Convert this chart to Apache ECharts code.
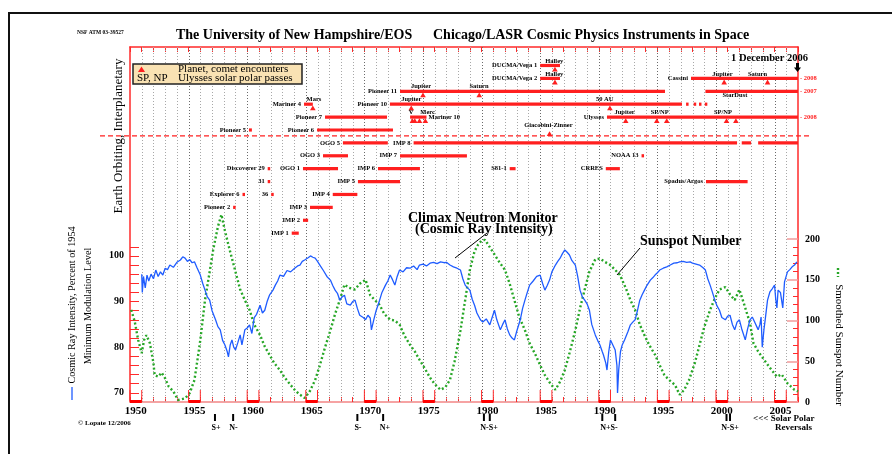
<!DOCTYPE html>
<html>
<head>
<meta charset="utf-8">
<script src="https://cdn.jsdelivr.net/npm/echarts@6/dist/echarts.min.js"></script>
<style>
  html, body { margin: 0; padding: 0; background: #ffffff; }
  #chart { width: 892px; height: 454px; }
</style>
</head>
<body>
<div id="chart"></div>
<script>
// ---------- Instrument timelines (row 0 = top of the panel) ----------
const missionNames = [
  'DUCMA/Vega 1', 'DUCMA/Vega 2', 'Cassini',
  'Pioneer 11', 'StarDust',
  'Mariner 4', 'Pioneer 10', '', '', '', '',
  'Pioneer 7', 'Mariner 10', 'Ulysses',
  'Pioneer 5', 'Pioneer 6',
  'OGO 5', 'IMP 8', '', '',
  'OGO 3', 'IMP 7', 'NOAA 13',
  'Discoverer 29', 'OGO 1', 'IMP 6', 'S81-1', 'CRRES',
  '31', 'IMP 5', 'Spadus/Argos',
  'Explorer 6', '36', 'IMP 4',
  'Pioneer 2', 'IMP 3',
  'IMP 2',
  'IMP 1'
];
const missionRows = [
  0, 1, 1,
  2, 2,
  3, 3, 3, 3, 3, 3,
  4, 4, 4,
  5, 5,
  6, 6, 6, 6,
  7, 7, 7,
  8, 8, 8, 8, 8,
  9, 9, 9,
  10, 10, 10,
  11, 11,
  12,
  13
];
const missionStart = [
  1985.0, 1985.0, 1997.87,
  1973.04, 1999.1,
  1964.85, 1972.18, 1997.45, 1998.1, 1998.55, 1999.05,
  1966.64, 1973.9, 1990.7,
  1960.15, 1965.96,
  1968.17, 1974.2, 2002.2, 2003.6,
  1966.47, 1973.04, 1993.65,
  1961.75, 1964.76, 1971.16, 1982.4, 1990.6,
  1961.75, 1969.45, 1999.15,
  1959.6, 1962.05, 1967.3,
  1958.8, 1965.36,
  1964.76,
  1963.8
];
const missionEnd = [
  1986.69, 1986.69, 2007.0,
  1995.65, 2007.0,
  1965.6, 1997.1, 1997.62, 1998.27, 1998.72, 1999.22,
  1971.93, 1975.3, 2007.0,
  1960.4, 1972.44,
  1972.0, 2001.8, 2003.0, 2007.0,
  1968.6, 1978.75, 1993.8,
  1961.95, 1967.75, 1974.74, 1982.9, 1991.8,
  1961.95, 1973.04, 2002.7,
  1959.75, 1962.25, 1969.4,
  1958.95, 1967.3,
  1965.2,
  1964.4
];
// Missions still running at the chart date, with planned end year
const extendedRows = [1, 2, 4];
const extendedText = ['2008', '2007', '2008'];

// ---------- Encounters (triangles) and their captions ----------
const encounterRows  = [0, 1, 1, 1, 2, 2, 3, 3, 3, 4, 4, 4, 4, 4, 4, 4, 4, 4, 5];
const encounterYears = [1986.26, 1986.26, 2000.7, 2004.4, 1975.0, 1979.8, 1965.6, 1974.0, 1990.95,
                        1974.1, 1974.3, 1974.7, 1975.2, 1992.3, 1994.95, 1995.8, 2000.9, 2001.7, 1985.8];
const captionText  = ['Halley', 'Halley', 'Jupiter', 'Saturn', 'Jupiter', 'Saturn', 'Mars', 'Jupiter', '50 AU',
                      'V', 'Merc', 'Jupiter', 'SP/NP', 'SP/NP', 'Giacobini-Zinner'];
const captionRows  = [0, 1, 1, 1, 2, 2, 3, 3, 3, 4, 4, 4, 4, 4, 5];
const captionYears = [1986.2, 1986.2, 2000.55, 2003.54, 1974.83, 1979.78, 1965.7, 1974.0, 1990.5,
                      1973.98, 1975.4, 1992.2, 1995.2, 2000.6, 1985.7];

// ---------- Climax neutron monitor, % of 1954 minimum modulation ----------
const cosmicYears = [
  1951.0, 1951.05, 1951.15, 1951.3, 1951.45, 1951.6, 1951.8, 1952.0, 1952.2, 1952.4, 1952.6, 1952.8,
  1953.0, 1953.2, 1953.4, 1953.7, 1954.0, 1954.3, 1954.5, 1954.7, 1954.9, 1955.1, 1955.3, 1955.5, 1955.7,
  1956.0, 1956.2, 1956.4, 1956.6, 1956.8, 1957.0, 1957.3, 1957.5, 1957.7, 1957.9, 1958.1, 1958.3, 1958.4,
  1958.55, 1958.7, 1958.85, 1959.0, 1959.2, 1959.4, 1959.55, 1959.8, 1960.0, 1960.2, 1960.4, 1960.6, 1960.8,
  1961.1, 1961.3, 1961.5, 1961.7, 1961.9, 1962.2, 1962.4, 1962.6, 1962.8, 1963.1, 1963.4, 1963.7, 1964.0,
  1964.3, 1964.5, 1964.7, 1964.9, 1965.2, 1965.4, 1965.6, 1965.8, 1966.0, 1966.2, 1966.5, 1966.8, 1967.1,
  1967.3, 1967.5, 1967.7, 1967.9, 1968.1, 1968.3, 1968.5, 1968.8, 1969.0, 1969.2, 1969.4, 1969.6, 1969.9,
  1970.1, 1970.3, 1970.5, 1970.6, 1970.8, 1971.0, 1971.3, 1971.5, 1971.8, 1972.0, 1972.2, 1972.4, 1972.6,
  1972.8, 1973.0, 1973.3, 1973.6, 1973.9, 1974.2, 1974.5, 1974.7, 1975.0, 1975.3, 1975.6, 1975.9, 1976.2,
  1976.5, 1976.8, 1977.0, 1977.3, 1977.6, 1977.9, 1978.2, 1978.4, 1978.6, 1978.8, 1979.0, 1979.2, 1979.4,
  1979.6, 1979.9, 1980.1, 1980.4, 1980.7, 1980.9, 1981.1, 1981.3, 1981.6, 1981.8, 1982.0, 1982.2, 1982.4,
  1982.6, 1982.8, 1983.0, 1983.3, 1983.5, 1983.7, 1983.9, 1984.1, 1984.4, 1984.7, 1985.0, 1985.2, 1985.4,
  1985.6, 1985.8, 1986.0, 1986.3, 1986.5, 1986.7, 1986.9, 1987.1, 1987.3, 1987.5, 1987.7, 1988.0, 1988.2,
  1988.4, 1988.6, 1988.8, 1989.0, 1989.2, 1989.4, 1989.7, 1989.9, 1990.1, 1990.3, 1990.4, 1990.6, 1990.7,
  1990.85, 1991.0, 1991.2, 1991.4, 1991.55, 1991.6, 1991.7, 1991.85, 1992.0, 1992.2, 1992.5, 1992.7, 1992.9,
  1993.1, 1993.3, 1993.5, 1993.7, 1993.9, 1994.1, 1994.4, 1994.6, 1994.8, 1995.0, 1995.2, 1995.5, 1995.8,
  1996.1, 1996.4, 1996.7, 1996.9, 1997.2, 1997.5, 1997.8, 1998.0, 1998.3, 1998.6, 1998.9, 1999.1, 1999.3,
  1999.5, 1999.7, 1999.9, 2000.1, 2000.3, 2000.5, 2000.8, 2001.0, 2001.2, 2001.4, 2001.6, 2001.8, 2002.0,
  2002.2, 2002.5, 2002.7, 2002.9, 2003.1, 2003.3, 2003.5, 2003.6, 2003.75, 2003.85, 2003.95, 2004.1, 2004.2,
  2004.4, 2004.6, 2004.8, 2005.0, 2005.1, 2005.2, 2005.3, 2005.5, 2005.6, 2005.7, 2005.85, 2006.1, 2006.3,
  2006.5, 2006.7, 2006.9
];
const cosmicPct = [
  96.0, 92.0, 95.5, 93.0, 95.8, 94.5, 96.0, 95.0, 96.9, 95.5, 96.5, 95.8,
  97.3, 97.0, 98.0, 97.5, 98.6, 99.1, 99.8, 99.5, 98.8, 99.2, 98.5, 98.7, 97.5,
  95.8, 94.0, 92.5, 91.0, 90.3, 88.0, 86.0, 84.5, 83.8, 81.5, 80.5, 79.0, 77.9,
  80.5, 81.6, 80.0, 79.4, 81.0, 82.7, 80.5, 83.8, 84.2, 84.9, 83.0, 86.5, 87.2,
  89.2, 87.5, 88.1, 90.0, 91.4, 92.5, 93.6, 94.5, 95.8, 95.5, 96.8, 96.5, 97.2,
  97.8, 98.0, 98.8, 99.1, 99.6, 100.0, 99.7, 99.5, 98.8, 98.0, 96.8, 95.5, 94.7,
  93.5, 92.5, 91.8, 90.3, 91.0, 91.4, 89.5, 89.2, 90.0, 90.3, 88.5, 87.0, 86.5,
  86.0, 87.0, 86.4, 83.8, 86.0, 88.0, 90.3, 92.0, 93.6, 94.5, 95.8, 94.8, 93.6,
  95.5, 96.9, 96.5, 97.4, 97.3, 97.8, 97.0, 98.0, 98.2, 97.8, 98.4, 98.6, 98.3,
  98.7, 98.5, 98.6, 98.0, 97.6, 97.3, 96.9, 95.0, 93.6, 93.0, 92.5, 90.5, 89.2,
  87.5, 86.0, 85.5, 86.2, 84.9, 86.5, 88.1, 86.0, 83.8, 85.0, 86.0, 84.0, 82.7,
  82.0, 81.6, 83.5, 86.0, 88.5, 90.3, 92.0, 93.6, 94.5, 95.5, 95.8, 94.0, 92.5,
  93.5, 94.7, 96.5, 98.0, 98.8, 99.5, 100.5, 101.3, 100.8, 100.2, 99.0, 98.0, 95.5,
  92.5, 91.0, 90.3, 89.5, 88.1, 85.0, 82.7, 81.5, 80.5, 79.0, 78.3, 76.5, 75.0,
  79.0, 81.6, 80.5, 79.4, 76.0, 70.0, 75.0, 79.0, 80.5, 81.6, 83.5, 84.9, 85.5,
  86.0, 88.0, 90.3, 91.5, 92.5, 93.5, 94.7, 95.2, 95.8, 96.3, 96.9, 97.3, 97.6,
  98.0, 98.4, 98.5, 98.7, 98.8, 98.6, 98.7, 98.4, 98.2, 98.0, 97.4, 96.9, 95.0,
  93.6, 92.0, 90.3, 89.0, 88.1, 86.5, 86.0, 86.8, 87.0, 85.0, 83.8, 85.5, 86.0,
  84.0, 81.6, 84.0, 86.0, 86.6, 85.5, 84.4, 83.8, 85.0, 86.6, 80.0, 84.0, 86.0,
  90.3, 92.1, 92.8, 93.6, 90.5, 88.6, 92.5, 92.0, 92.1, 88.6, 94.3, 96.5, 97.0,
  97.6, 98.0, 98.7
];

// ---------- Smoothed sunspot number ----------
const sunspotYears = [
  1950.1, 1950.4, 1950.7, 1951.0, 1951.2, 1951.4, 1951.7, 1952.0, 1952.1, 1952.4, 1952.7, 1953.0, 1953.3,
  1953.7, 1954.1, 1954.7, 1955.1, 1955.5, 1955.8, 1956.0, 1956.4, 1956.8, 1957.1, 1957.5, 1957.8, 1958.1,
  1958.5, 1959.0, 1959.4, 1959.8, 1960.2, 1960.6, 1961.1, 1961.5, 1961.9, 1962.3, 1962.8, 1963.2, 1963.7,
  1964.1, 1964.5, 1964.9, 1965.3, 1965.8, 1966.2, 1966.6, 1967.1, 1967.5, 1967.9, 1968.3, 1968.7, 1969.2,
  1969.6, 1970.1, 1970.5, 1970.9, 1971.3, 1971.7, 1972.2, 1972.6, 1973.0, 1973.4, 1973.9, 1974.3, 1974.7,
  1975.2, 1975.6, 1976.0, 1976.5, 1976.9, 1977.3, 1977.7, 1978.2, 1978.6, 1979.0, 1979.4, 1979.7, 1980.0,
  1980.3, 1980.7, 1981.1, 1981.5, 1982.0, 1982.4, 1982.8, 1983.2, 1983.7, 1984.1, 1984.6, 1985.0, 1985.4,
  1985.9, 1986.3, 1986.7, 1987.1, 1987.5, 1988.0, 1988.4, 1988.8, 1989.2, 1989.7, 1990.1, 1990.5, 1991.0,
  1991.4, 1991.8, 1992.3, 1992.7, 1993.1, 1993.5, 1993.9, 1994.3, 1994.8, 1995.2, 1995.6, 1996.0, 1996.5,
  1996.9, 1997.3, 1997.7, 1998.2, 1998.6, 1999.0, 1999.5, 1999.9, 2000.3, 2000.8, 2001.2, 2001.6, 2002.0,
  2002.4, 2002.9, 2003.2, 2003.6, 2004.0, 2004.6, 2005.2, 2005.6, 2006.1, 2006.7, 2007.0
];
const sunspotNum = [
  113, 99, 76, 60, 76, 82, 72, 48, 33, 31, 36, 29, 19,
  13, 2.5, 4.5, 11, 27, 56, 76, 125, 160, 187, 215, 230, 210,
  187, 160, 138, 125, 113, 95, 82, 68, 58, 48, 39, 30, 21,
  14, 9, 5, 12, 27, 45, 65, 88, 108, 125, 144, 140, 138,
  145, 150, 131, 125, 119, 108, 101, 100, 95, 82, 70, 62, 52,
  40, 30, 22, 15, 18, 27, 50, 88, 125, 162, 185, 193, 198,
  199, 190, 181, 172, 162, 145, 125, 105, 88, 72, 58, 45, 33,
  22, 15, 25, 39, 60, 88, 115, 138, 160, 175, 176, 172, 168,
  162, 156, 140, 125, 113, 95, 82, 70, 58, 45, 33, 27, 21,
  9, 15, 27, 48, 70, 92, 113, 127, 138, 141, 132, 125, 138,
  120, 97, 72, 62, 54, 42, 31, 34, 23, 15, 13
];

// ---------- Solar polar field reversals ----------
const reversalYears = [1957.25, 1958.8, 1969.4, 1971.6, 1980.2, 1980.7, 1990.3, 1991.4, 2000.9, 2001.2];
const reversalLabels = ['S+', 'N-', 'S-', 'N+', 'N-S+', 'N+S-', 'N-S+'];
const reversalLabelYears = [1957.34, 1958.83, 1969.45, 1971.76, 1980.63, 1990.87, 2001.2];

// ---------- Axis ticks ----------
const yearMin = 1950, yearMax = 2007;
const yearLabelYears = [1950, 1955, 1960, 1965, 1970, 1975, 1980, 1985, 1990, 1995, 2000, 2005];
const cosmicLabels = [70, 80, 90, 100];
const cosmicTicks = [70, 72, 74, 76, 78, 80, 82, 84, 86, 88, 90, 92, 94, 96, 98, 100, 102];

// ---------- Styling ----------
const RED = '#ff1f1f';
const AXIS_RED = '#ff2a2a';
const SERIF = '"Liberation Serif", "DejaVu Serif", serif';
const ROW_MIN = -1.434, ROW_MAX = 26.09;   // row scale for the timeline panel
const SEP_ROW = 5.45;                        // boundary between interplanetary and earth-orbiting rows

const chart = echarts.init(document.getElementById('chart'), null, { renderer: 'canvas' });

function smallText(x, y, text, align, extra) {
  return Object.assign({
    type: 'text', x: x, y: y,
    style: { text: text, fill: '#000', font: 'bold 6.5px ' + SERIF, align: align, verticalAlign: 'middle' }
  }, extra || {});
}

const missionData = missionNames.map((n, i) => [missionStart[i], missionRows[i], missionEnd[i], i]);
const encounterData = encounterYears.map((y, i) => [y, encounterRows[i]]);
const captionData = captionYears.map((y, i) => [y, captionRows[i], i]);
const extendedData = extendedRows.map((r, i) => [yearMax, r, i]);
const bracketData = yearLabelYears.map(y => [y, ROW_MAX]);
const reversalData = reversalYears.map(y => [y, ROW_MAX]);
const reversalLabelData = reversalLabelYears.map((y, i) => [y, ROW_MAX, i]);
const gridYears = [];
for (let y = yearMin + 1; y < yearMax; y++) gridYears.push([y, ROW_MIN]);

const option = {
  animation: false,
  backgroundColor: '#ffffff',
  grid: [
    { left: 130, right: 94, top: 47, bottom: 52 },
    { left: 130, right: 94, top: 239, bottom: 52 }
  ],
  xAxis: [
    {
      gridIndex: 0, type: 'value', min: yearMin, max: yearMax, interval: 1, position: 'bottom',
      axisLine: { onZero: false, lineStyle: { color: '#f6a3a3', width: 2 } },
      axisTick: { inside: true, length: 5, lineStyle: { color: AXIS_RED, width: 1 } },
      axisLabel: {
        customValues: yearLabelYears.map(y => y + 0.5),
        formatter: v => String(Math.floor(v)),
        color: '#000', fontFamily: SERIF, fontWeight: 'bold', fontSize: 11, margin: 4
      },
      splitLine: { show: false }
    },
    {
      gridIndex: 0, type: 'value', min: yearMin, max: yearMax, interval: 1, position: 'top',
      axisLine: { onZero: false, lineStyle: { color: AXIS_RED, width: 1.5 } },
      axisTick: { inside: true, length: 5, lineStyle: { color: AXIS_RED, width: 1 } },
      axisLabel: { show: false },
      splitLine: { show: false }
    },
    {
      gridIndex: 1, type: 'value', min: yearMin, max: yearMax, show: false
    }
  ],
  yAxis: [
    {
      gridIndex: 0, type: 'value', min: ROW_MIN, max: ROW_MAX, inverse: true, position: 'left',
      axisLine: { show: true, onZero: false, lineStyle: { color: AXIS_RED, width: 1.5 } },
      axisTick: { show: false }, axisLabel: { show: false }, splitLine: { show: false }
    },
    {
      gridIndex: 0, type: 'value', min: ROW_MIN, max: ROW_MAX, inverse: true, position: 'right',
      axisLine: { show: true, onZero: false, lineStyle: { color: AXIS_RED, width: 1.5 } },
      axisTick: { show: false }, axisLabel: { show: false }, splitLine: { show: false }
    },
    {
      gridIndex: 1, type: 'value', min: 68, max: 103.7, position: 'left',
      axisLine: { show: false },
      axisTick: { show: true, inside: true, length: 9, customValues: cosmicTicks, lineStyle: { color: AXIS_RED } },
      axisLabel: { customValues: cosmicLabels, color: '#000', fontFamily: SERIF, fontWeight: 'bold', fontSize: 10, margin: 6 },
      splitLine: { show: false }
    },
    {
      gridIndex: 1, type: 'value', min: 0, max: 200, interval: 50, position: 'right',
      axisLine: { show: false },
      axisTick: { show: true, inside: true, length: 11, lineStyle: { color: '#f29a9a', width: 1.5 } },
      minorTick: { show: true, splitNumber: 5, length: 5, lineStyle: { color: AXIS_RED } },
      axisLabel: { color: '#000', fontFamily: SERIF, fontWeight: 'bold', fontSize: 10, margin: 7 },
      splitLine: { show: false }, minorSplitLine: { show: false }
    }
  ],
  series: [
    // yearly dotted gridlines, darker every fifth year
    {
      type: 'custom', xAxisIndex: 0, yAxisIndex: 0, clip: false, z: 1, silent: true,
      data: gridYears, encode: { x: 0, y: 1 },
      renderItem: function (params, api) {
        const yr = api.value(0);
        const a = api.coord([yr, ROW_MIN]);
        const b = api.coord([yr, ROW_MAX]);
        const major = yr % 5 === 0;
        return {
          type: 'line', shape: { x1: Math.round(a[0]) + 0.5, y1: a[1], x2: Math.round(a[0]) + 0.5, y2: b[1] },
          style: { stroke: major ? '#6a6a6a' : '#a8a8a8', lineWidth: 1, lineDash: [1, 2] }
        };
      }
    },
    // sunspot number (green dotted)
    {
      type: 'line', name: 'Smoothed Sunspot Number', xAxisIndex: 2, yAxisIndex: 3,
      data: sunspotYears.map((y, i) => [y, sunspotNum[i]]),
      showSymbol: false, smooth: false, clip: false, z: 3,
      lineStyle: { color: '#26a626', width: 2.4, type: [2, 2.4], cap: 'butt' }
    },
    // cosmic ray intensity (blue)
    {
      type: 'line', name: 'Climax Neutron Monitor', xAxisIndex: 2, yAxisIndex: 2,
      data: cosmicYears.map((y, i) => [y, cosmicPct[i]]),
      showSymbol: false, smooth: false, clip: false, z: 4,
      lineStyle: { color: '#1f5cff', width: 1.3 }
    },
    // instrument timelines
    {
      type: 'custom', xAxisIndex: 0, yAxisIndex: 0, clip: false, z: 5,
      data: missionData, encode: { x: [0, 2], y: 1 },
      renderItem: function (params, api) {
        const i = api.value(3);
        const a = api.coord([api.value(0), api.value(1)]);
        const b = api.coord([api.value(2), api.value(1)]);
        const w = Math.max(b[0] - a[0], 2.5);
        const children = [{ type: 'rect', shape: { x: a[0], y: a[1] - 1.6, width: w, height: 3.2 }, style: { fill: RED } }];
        const name = missionNames[i];
        if (name === 'Mariner 10') {
          children.push(smallText(a[0] + w + 2, a[1], name, 'left'));
        } else if (name === 'StarDust') {
          children.push(smallText(a[0] + 17, a[1] + 4.5, name, 'left'));
        } else if (name) {
          children.push(smallText(a[0] - 3, a[1], name, 'right'));
        }
        return { type: 'group', children: children };
      }
    },
    // encounter triangles
    {
      type: 'custom', xAxisIndex: 0, yAxisIndex: 0, clip: false, z: 6,
      data: encounterData, encode: { x: 0, y: 1 },
      renderItem: function (params, api) {
        const p = api.coord([api.value(0), api.value(1)]);
        return {
          type: 'polygon',
          shape: { points: [[p[0] - 2.8, p[1] + 6], [p[0] + 2.8, p[1] + 6], [p[0], p[1] + 1.2]] },
          style: { fill: RED }
        };
      }
    },
    // encounter captions
    {
      type: 'custom', xAxisIndex: 0, yAxisIndex: 0, clip: false, z: 6,
      data: captionData, encode: { x: 0, y: 1 },
      renderItem: function (params, api) {
        const p = api.coord([api.value(0), api.value(1)]);
        return smallText(p[0], p[1] - 4.5, captionText[api.value(2)], 'center');
      }
    },
    // planned end years at right edge
    {
      type: 'custom', xAxisIndex: 0, yAxisIndex: 0, clip: false, z: 6,
      data: extendedData, encode: { x: 0, y: 1 },
      renderItem: function (params, api) {
        const p = api.coord([api.value(0), api.value(1)]);
        return {
          type: 'text', x: p[0] + 2, y: p[1],
          style: { text: '- ' + extendedText[api.value(2)], fill: RED, font: 'bold 6.5px ' + SERIF, align: 'left', verticalAlign: 'middle' }
        };
      }
    },
    // panel separator (interplanetary / earth orbiting)
    {
      type: 'custom', xAxisIndex: 0, yAxisIndex: 0, clip: false, z: 4,
      data: [[yearMin, SEP_ROW]], encode: { x: 0, y: 1 },
      renderItem: function (params, api) {
        const p = api.coord([yearMin, SEP_ROW]);
        const q = api.coord([yearMax, SEP_ROW]);
        return {
          type: 'line', shape: { x1: p[0] - 30, y1: p[1], x2: q[0] + 14, y2: p[1] },
          style: { stroke: RED, lineWidth: 1.3, lineDash: [5, 3] }
        };
      }
    },
    // five-year brackets on the time axis
    {
      type: 'custom', xAxisIndex: 0, yAxisIndex: 0, clip: false, z: 7,
      data: bracketData, encode: { x: 0, y: 1 },
      renderItem: function (params, api) {
        const a = api.coord([api.value(0), ROW_MAX]);
        const b = api.coord([api.value(0) + 1, ROW_MAX]);
        return {
          type: 'group', children: [
            { type: 'polyline', shape: { points: [[a[0], a[1] - 12], [a[0], a[1]], [b[0], b[1]], [b[0], b[1] - 12]] },
              style: { stroke: AXIS_RED, lineWidth: 1, fill: null } },
            { type: 'line', shape: { x1: a[0], y1: a[1] - 0.5, x2: b[0], y2: b[1] - 0.5 }, style: { stroke: '#ff0000', lineWidth: 3 } }
          ]
        };
      }
    },
    // polar reversal markers
    {
      type: 'custom', xAxisIndex: 0, yAxisIndex: 0, clip: false, z: 7,
      data: reversalData, encode: { x: 0, y: 1 },
      renderItem: function (params, api) {
        const p = api.coord([api.value(0), ROW_MAX]);
        return { type: 'rect', shape: { x: p[0] - 1, y: p[1] + 12, width: 2, height: 7 }, style: { fill: '#000' } };
      }
    },
    {
      type: 'custom', xAxisIndex: 0, yAxisIndex: 0, clip: false, z: 7,
      data: reversalLabelData, encode: { x: 0, y: 1 },
      renderItem: function (params, api) {
        const p = api.coord([api.value(0), ROW_MAX]);
        return {
          type: 'text', x: p[0], y: p[1] + 26,
          style: { text: reversalLabels[api.value(2)], fill: '#000', font: 'bold 8px ' + SERIF, align: 'center', verticalAlign: 'middle' }
        };
      }
    }
  ],
  graphic: [
    // outer frame
    { type: 'rect', shape: { x: 9, y: 13, width: 900, height: 460 }, style: { fill: null, stroke: '#111', lineWidth: 2 }, z: 100 },
    { type: 'text', x: 77, y: 33, style: { text: 'NSF ATM 03-39527', fill: '#000', font: 'bold 5.5px ' + SERIF, verticalAlign: 'middle' }, z: 100 },
    { type: 'text', x: 176, y: 35, style: { text: 'The University of New Hampshire/EOS', fill: '#000', font: 'bold 14px ' + SERIF, verticalAlign: 'middle' }, z: 100 },
    { type: 'text', x: 433, y: 35, style: { text: 'Chicago/LASR Cosmic Physics Instruments in Space', fill: '#000', font: 'bold 14px ' + SERIF, verticalAlign: 'middle' }, z: 100 },
    { type: 'text', x: 808, y: 58, style: { text: '1 December 2006', fill: '#000', font: 'bold 10.5px ' + SERIF, align: 'right', verticalAlign: 'middle' }, z: 100 },
    { type: 'rect', shape: { x: 796, y: 63, width: 3, height: 5 }, style: { fill: '#000' }, z: 100 },
    { type: 'polygon', shape: { points: [[794, 67.5], [801, 67.5], [797.5, 72]] }, style: { fill: '#000' }, z: 100 },
    // legend
    { type: 'rect', shape: { x: 133, y: 64, width: 169, height: 20 }, style: { fill: '#f9e2b3', stroke: '#222', lineWidth: 1.5 }, z: 100 },
    { type: 'polygon', shape: { points: [[138, 72], [145, 72], [141.5, 66.5]] }, style: { fill: RED }, z: 101 },
    { type: 'text', x: 137, y: 78.5, style: { text: 'SP, NP', fill: '#000', font: '11px ' + SERIF, verticalAlign: 'middle' }, z: 101 },
    { type: 'text', x: 178, y: 69.5, style: { text: 'Planet, comet encounters', fill: '#000', font: '11px ' + SERIF, verticalAlign: 'middle' }, z: 101 },
    { type: 'text', x: 178, y: 78.5, style: { text: 'Ulysses solar polar passes', fill: '#000', font: '11px ' + SERIF, verticalAlign: 'middle' }, z: 101 },
    // panel title on the left
    { type: 'text', x: 119, y: 136, rotation: Math.PI / 2,
      style: { text: 'Earth Orbiting, Interplanetary', fill: '#000', font: '13px ' + SERIF, align: 'center', verticalAlign: 'middle' }, z: 100 },
    // axis titles
    { type: 'text', x: 72, y: 305, rotation: Math.PI / 2,
      style: { text: 'Cosmic Ray Intensity, Percent of 1954', fill: '#000', font: '10.2px ' + SERIF, align: 'center', verticalAlign: 'middle' }, z: 100 },
    { type: 'text', x: 88, y: 306, rotation: Math.PI / 2,
      style: { text: 'Minimum Modulation Level', fill: '#000', font: '10.2px ' + SERIF, align: 'center', verticalAlign: 'middle' }, z: 100 },
    { type: 'line', shape: { x1: 72, y1: 387, x2: 72, y2: 400 }, style: { stroke: '#1f5cff', lineWidth: 1.3 }, z: 100 },
    { type: 'text', x: 839, y: 345, rotation: -Math.PI / 2,
      style: { text: 'Smoothed Sunspot Number', fill: '#000', font: '11px ' + SERIF, align: 'center', verticalAlign: 'middle' }, z: 100 },
    { type: 'line', shape: { x1: 838, y1: 268, x2: 838, y2: 277 }, style: { stroke: '#26a626', lineWidth: 2.4, lineDash: [2, 2] }, z: 100 },
    // curve annotations
    { type: 'text', x: 408, y: 218, style: { text: 'Climax Neutron Monitor', fill: '#000', font: 'bold 14px ' + SERIF, verticalAlign: 'middle' }, z: 100 },
    { type: 'text', x: 415, y: 229, style: { text: '(Cosmic Ray Intensity)', fill: '#000', font: 'bold 14px ' + SERIF, verticalAlign: 'middle' }, z: 100 },
    { type: 'line', shape: { x1: 487, y1: 233, x2: 455, y2: 258 }, style: { stroke: '#000', lineWidth: 1 }, z: 100 },
    { type: 'text', x: 640, y: 241, style: { text: 'Sunspot Number', fill: '#000', font: 'bold 14px ' + SERIF, verticalAlign: 'middle' }, z: 100 },
    { type: 'line', shape: { x1: 640, y1: 248, x2: 617, y2: 275 }, style: { stroke: '#000', lineWidth: 1 }, z: 100 },
    // footer
    { type: 'text', x: 78, y: 423, style: { text: '© Lopate 12/2006', fill: '#000', font: 'bold 7px ' + SERIF, verticalAlign: 'middle' }, z: 100 },
    { type: 'text', x: 753, y: 419, style: { text: '<<< Solar Polar', fill: '#000', font: 'bold 9px ' + SERIF, verticalAlign: 'middle' }, z: 100 },
    { type: 'text', x: 775, y: 428, style: { text: 'Reversals', fill: '#000', font: 'bold 9px ' + SERIF, verticalAlign: 'middle' }, z: 100 }
  ]
};

chart.setOption(option);
</script>
</body>
</html>
